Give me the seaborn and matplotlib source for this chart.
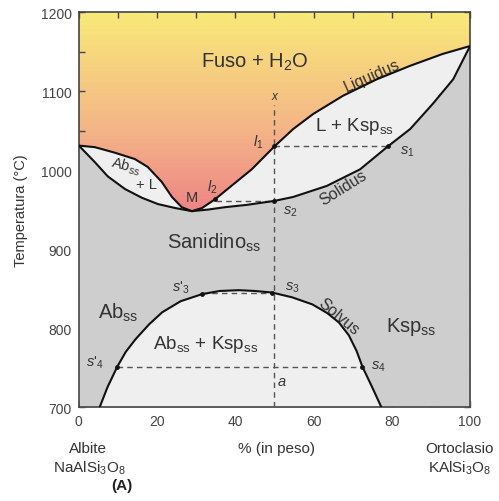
import numpy as np
import matplotlib
matplotlib.use("Agg")
import matplotlib.pyplot as plt
import seaborn as sns
from matplotlib.colors import LinearSegmentedColormap
from matplotlib.patches import Polygon
from matplotlib.ticker import MultipleLocator

# liquidus / solidus / solvus (x = % in weight, T = deg C)
liq_x = [0, 4.1, 9.2, 14.3, 17.6, 21.2, 23.8, 26.3, 28.9, 31.5, 34.8, 39, 44.2, 50,
         54.8, 59.9, 67.5, 76.2, 84.7, 93, 100]
liq_T = [1031, 1029, 1022, 1014, 1004, 985, 966, 953, 948, 952, 963, 980, 1001, 1030,
         1052, 1071, 1094, 1115, 1132, 1147, 1157]
sol_x = [0, 4.1, 7.4, 11.8, 16.1, 20.2, 24.6, 28.9, 33, 37.3, 43, 50, 54.8, 63.4,
         71.9, 79, 84.7, 90.5, 95.7, 100]
sol_T = [1031, 1010, 992, 976, 965, 957, 952, 948, 950, 953, 956, 961, 966, 980,
         1001, 1030, 1052, 1084, 1115, 1157]
solv_x = [5.1, 7.3, 9.8, 12, 14.5, 18, 21.3, 26, 31.5, 36, 40.9, 45, 49.4, 54.5,
          59.7, 63.5, 66.5, 69, 71, 72.5, 75, 77.6]
solv_T = [697, 725, 751, 770, 786, 805, 820, 834, 843, 847, 848, 847, 845, 839,
          830, 819, 807, 791, 771, 751, 725, 697]

sns.set_style("ticks")
plt.rcParams['font.family'] = ['Liberation Sans', 'DejaVu Sans']
plt.rcParams['mathtext.fontset'] = 'custom'
plt.rcParams['mathtext.rm'] = 'Liberation Sans'
plt.rcParams['mathtext.it'] = 'Liberation Sans:italic'
txt = '#333333'

fig = plt.figure(figsize=(4.99, 5.02), dpi=100)
ax = fig.add_axes([0.158, 0.187, 0.784, 0.787])

# colored melt region with a vertical gradient, clipped above the liquidus
cmap = LinearSegmentedColormap.from_list(
    'melt', [(0.0, '#ee8585'), (0.4, '#f4b488'), (1.0, '#f9ea78')])
grad = np.linspace(0, 1, 256).reshape(-1, 1)
im = ax.imshow(grad, cmap=cmap, origin='lower', aspect='auto',
               extent=[0, 100, 948, 1200], zorder=0)
melt = Polygon(list(zip(liq_x, liq_T)) + [(100, 1200), (0, 1200)],
               closed=True, facecolor='none', edgecolor='none')
ax.add_patch(melt)
im.set_clip_path(melt)

# two-phase loop and solid regions
loop = Polygon(list(zip(liq_x, liq_T)) + list(zip(sol_x, sol_T))[::-1],
               closed=True, facecolor='#efefef', edgecolor='none', zorder=1)
ax.add_patch(loop)
ax.fill_between(sol_x, 700, sol_T, color='#cecece', lw=0, zorder=1)
ax.fill_between(solv_x, 700, solv_T, color='#efefef', lw=0, zorder=2)

# curves
for cx, cy in [(liq_x, liq_T), (sol_x, sol_T), (solv_x, solv_T)]:
    sns.lineplot(x=cx, y=cy, sort=False, estimator=None, color='#111111', lw=1.5, ax=ax, zorder=4)

# dashed construction lines
dash = dict(color='#555555', lw=1.0, ls=(0, (4, 3)), zorder=3)
ax.plot([50, 50], [700, 1082], **dash)
ax.plot([50, 79], [1030, 1030], **dash)
ax.plot([35, 50], [961, 961], **dash)
ax.plot([31.5, 50], [845, 845], **dash)
ax.plot([9.8, 72.5], [751, 751], **dash)
ax.scatter([50, 79, 50, 34.8, 49.4, 31.5, 9.8, 72.5], [1030, 1030, 961, 963, 845, 843, 751, 751],
           s=6, color='#111111', zorder=5)

# labels
big = 14.5
small = 10.5
ss = r'$_{\mathrm{ss}}$'
ax.text(45, 1137, 'Fuso + H$_{\\mathrm{2}}$O', fontsize=big, color=txt, ha='center', va='center')
ax.text(75, 1120, 'Liquidus', fontsize=11.5, color=txt, ha='center', va='center', rotation=24)
ax.text(70.5, 1056, 'L + Ksp' + ss, fontsize=13.5, color=txt, ha='center', va='center')
ax.text(50, 1086, 'x', fontsize=8.5, color=txt, ha='center', va='bottom', style='italic')
ax.text(45.8, 1036, '$l_1$', fontsize=small, color=txt, ha='center', va='center')
ax.text(84, 1024, '$s_1$', fontsize=small, color=txt, ha='center', va='center')
ax.text(67.5, 978, 'Solidus', fontsize=11.5, color=txt, ha='center', va='center', rotation=32)
ax.text(54, 948, '$s_2$', fontsize=small, color=txt, ha='center', va='center')
ax.text(12, 1006, 'Ab' + ss, fontsize=small, color=txt, ha='center', va='center', rotation=-15)
ax.text(17.4, 982, '+ L', fontsize=small, color=txt, ha='center', va='center')
ax.text(29, 966, 'M', fontsize=small, color=txt, ha='center', va='center')
ax.text(34, 979, '$l_2$', fontsize=small, color=txt, ha='center', va='center')
ax.text(34.5, 909, 'Sanidino' + ss, fontsize=big, color=txt, ha='center', va='center')
ax.text(10, 821, 'Ab' + ss, fontsize=big, color=txt, ha='center', va='center')
ax.text(26, 852, "$s$'$_3$", fontsize=small, color=txt, ha='center', va='center')
ax.text(54.5, 852, '$s_3$', fontsize=small, color=txt, ha='center', va='center')
ax.text(66.5, 815, 'Solvus', fontsize=11.5, color=txt, ha='center', va='center', rotation=-40)
ax.text(85, 803, 'Ksp' + ss, fontsize=big, color=txt, ha='center', va='center')
ax.text(32.5, 780, 'Ab' + ss + ' + Ksp' + ss, fontsize=13.5, color=txt, ha='center', va='center')
ax.text(4, 757, "$s$'$_4$", fontsize=small, color=txt, ha='center', va='center')
ax.text(76.5, 752, '$s_4$', fontsize=small, color=txt, ha='center', va='center')
ax.text(52, 733, '$a$', fontsize=small, color=txt, ha='center', va='center')

# axes
ax.set_xlim(0, 100)
ax.set_ylim(700, 1200)
ax.xaxis.set_major_locator(MultipleLocator(20))
ax.xaxis.set_minor_locator(MultipleLocator(10))
ax.yaxis.set_major_locator(MultipleLocator(100))
ax.yaxis.set_minor_locator(MultipleLocator(50))
ax.tick_params(which='both', direction='in', length=4, width=1, color='#444444',
               top=True, right=True, labelsize=10, labelcolor='#444444', pad=5)
for sp in ax.spines.values():
    sp.set_color('#444444')
    sp.set_linewidth(1.2)
ax.set_ylabel('Temperatura (°C)', fontsize=10.5, color=txt, labelpad=9)

bottom = 11
ax.text(50.5, 648, '% (in peso)', fontsize=bottom, color=txt, ha='center', va='center', clip_on=False)
ax.text(2.3, 648, 'Albite', fontsize=bottom, color=txt, ha='center', va='center', clip_on=False)
ax.text(2.8, 624, 'NaAlSi$_{\\mathrm{3}}$O$_{\\mathrm{8}}$', fontsize=bottom, color=txt, ha='center', va='center', clip_on=False)
ax.text(11, 601, '(A)', fontsize=bottom, color='#222222', fontweight='bold', ha='center', va='center', clip_on=False)
ax.text(97.4, 648, 'Ortoclasio', fontsize=bottom, color=txt, ha='center', va='center', clip_on=False)
ax.text(97.4, 624, 'KAlSi$_{\\mathrm{3}}$O$_{\\mathrm{8}}$', fontsize=bottom, color=txt, ha='center', va='center', clip_on=False)

fig.savefig('out.png', dpi=100)
